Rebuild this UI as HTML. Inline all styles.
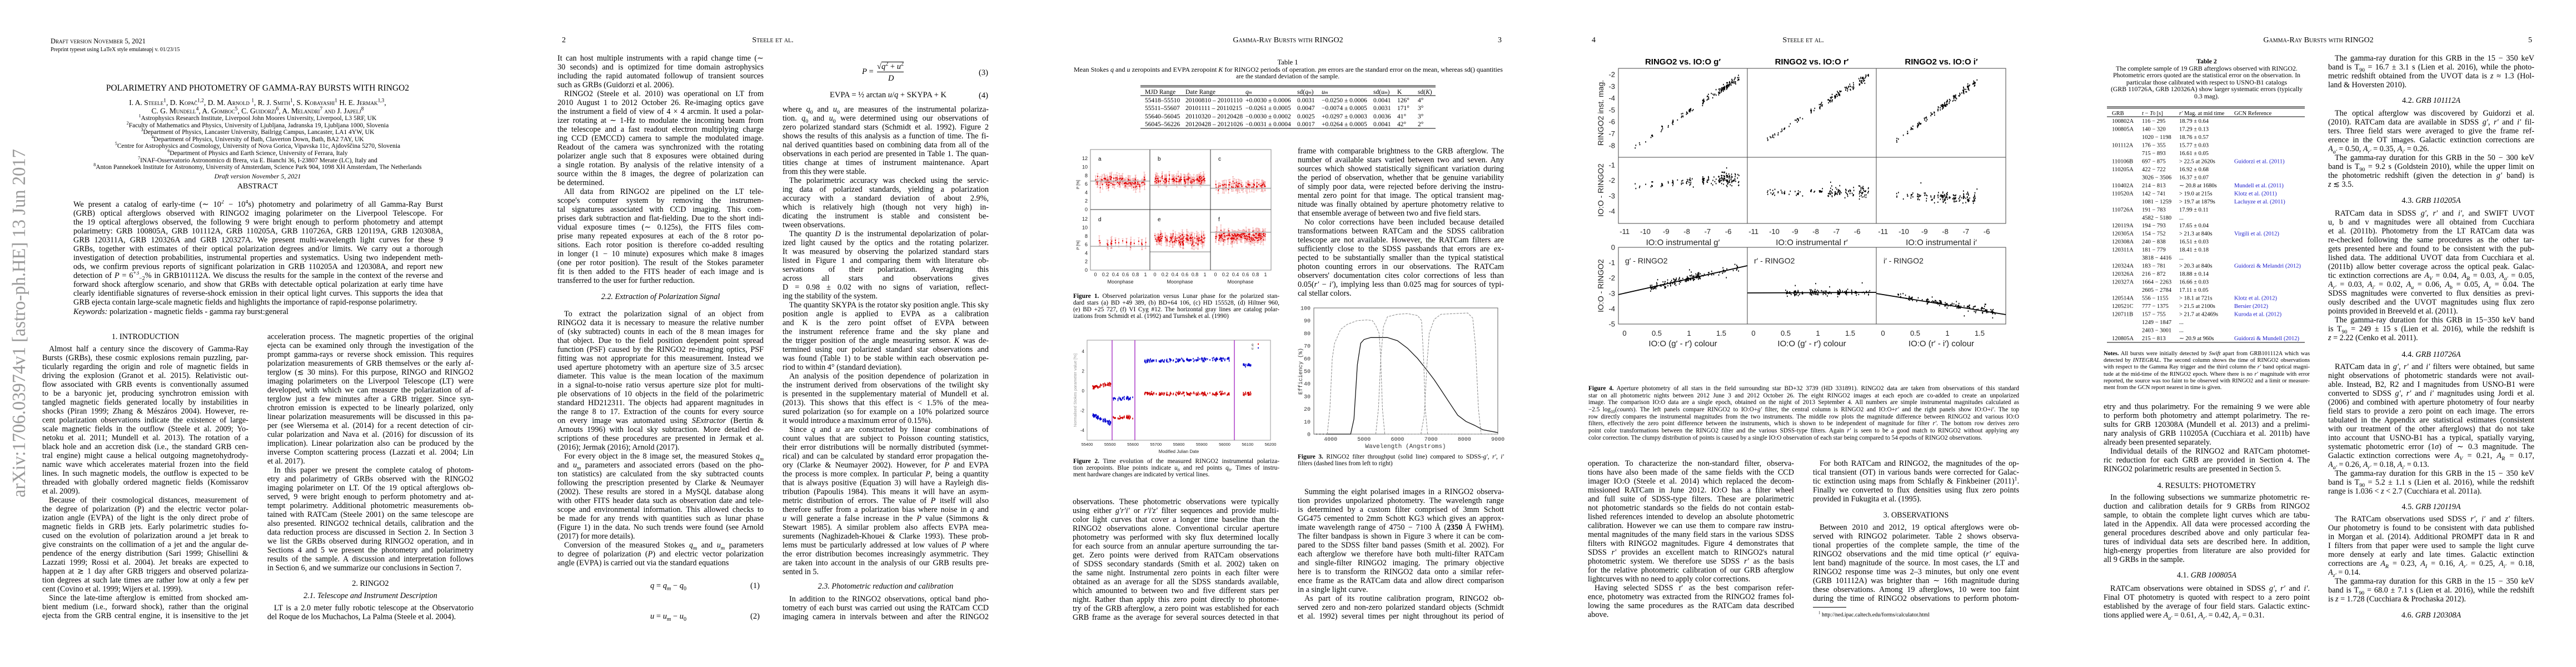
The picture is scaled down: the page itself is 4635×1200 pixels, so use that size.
<!DOCTYPE html>
<html><head><meta charset="utf-8">
<style>
body{margin:0;width:4635px;height:1200px;position:relative;overflow:hidden;background:#fff;font-family:"Liberation Serif",serif;color:#000}
sup,sub{line-height:0;font-size:70%}
.a{position:absolute;white-space:nowrap}
.c{position:absolute;width:371px;font-size:14.2px}
.c p{margin:0;height:16px;line-height:16px;text-align:justify;text-align-last:justify;overflow:hidden}
.c p.i{text-indent:12px}
.c p.e{text-align-last:left}
.c p.h{text-align:center;text-align-last:center}
.cap{position:absolute;font-size:11.3px}
.cap p{margin:0;height:12px;line-height:12px;text-align:justify;text-align-last:justify;overflow:hidden}
.cap p.e{text-align-last:left}
.sc{font-variant:small-caps}
.ctr{position:absolute;text-align:center;white-space:nowrap}
svg{position:absolute;left:0;top:0}
</style></head><body>

<!-- ================= PAGE 1 ================= -->
<div class="a sc" style="left:91px;top:67px;font-size:12.5px">Draft version November 5, 2021</div>
<div class="a" style="left:91px;top:84px;font-size:10px">Preprint typeset using LaTeX style emulateapj v. 01/23/15</div>
<div class="ctr" style="left:0;width:927px;top:150px;font-size:15.5px">POLARIMETRY AND PHOTOMETRY OF GAMMA-RAY BURSTS WITH RINGO2</div>
<div class="ctr sc" style="left:0;width:927px;top:177px;font-size:13.5px">I. A. Steele<sup>1</sup>, D. Kopač<sup>1,2</sup>, D. M. Arnold <sup>1</sup>, R. J. Smith<sup>1</sup>, S. Kobayashi<sup>1</sup> H. E. Jermak<sup>1,3</sup>,</div>
<div class="ctr sc" style="left:0;width:927px;top:192px;font-size:13.5px">C. G. Mundell<sup>4</sup>, A. Gomboc<sup>5</sup>, C. Guidorzi<sup>6</sup>, A. Melandri<sup>7</sup> and J. Japelj<sup>8</sup></div>
<div class="ctr" style="left:0;width:927px;top:207px;font-size:11.5px;line-height:12.6px">
<sup>1</sup>Astrophysics Research Institute, Liverpool John Moores University, Liverpool, L3 5RF, UK<br>
<sup>2</sup>Faculty of Mathematics and Physics, University of Ljubljana, Jadranska 19, Ljubljana 1000, Slovenia<br>
<sup>3</sup>Department of Physics, Lancaster University, Bailrigg Campus, Lancaster, LA1 4YW, UK<br>
<sup>4</sup>Department of Physics, University of Bath, Claverton Down, Bath, BA2 7AY, UK<br>
<sup>5</sup>Centre for Astrophysics and Cosmology, University of Nova Gorica, Vipavska 11c, Ajdovščina 5270, Slovenia<br>
<sup>6</sup>Department of Physics and Earth Science, University of Ferrara, Italy<br>
<sup>7</sup>INAF-Osservatorio Astronomico di Brera, via E. Bianchi 36, I-23807 Merate (LC), Italy and<br>
<sup>8</sup>Anton Pannekoek Institute for Astronomy, University of Amsterdam, Science Park 904, 1098 XH Amsterdam, The Netherlands</div>
<div class="ctr" style="left:0;width:927px;top:310px;font-size:12px;font-style:italic">Draft version November 5, 2021</div>
<div class="ctr" style="left:0;width:927px;top:328px;font-size:14px">ABSTRACT</div>
<div class="c" style="left:132px;top:360px;width:665px;font-size:14.3px">
<p>We present a catalog of early-time (∼ 10<sup>2</sup> − 10<sup>4</sup>s) photometry and polarimetry of all Gamma-Ray Burst</p>
<p>(GRB) optical afterglows observed with RINGO2 imaging polarimeter on the Liverpool Telescope. For</p>
<p>the 19 optical afterglows observed, the following 9 were bright enough to perform photometry and attempt</p>
<p>polarimetry: GRB 100805A, GRB 101112A, GRB 110205A, GRB 110726A, GRB 120119A, GRB 120308A,</p>
<p>GRB 120311A, GRB 120326A and GRB 120327A. We present multi-wavelength light curves for these 9</p>
<p>GRBs, together with estimates of their optical polarization degrees and/or limits. We carry out a thorough</p>
<p>investigation of detection probabilities, instrumental properties and systematics. Using two independent meth-</p>
<p>ods, we confirm previous reports of significant polarization in GRB 110205A and 120308A, and report new</p>
<p>detection of <i>P</i> = 6<sup>+3</sup><sub>−2</sub>% in GRB101112A. We discuss the results for the sample in the context of the reverse and</p>
<p>forward shock afterglow scenario, and show that GRBs with detectable optical polarization at early time have</p>
<p>clearly identifiable signatures of reverse-shock emission in their optical light curves. This supports the idea that</p>
<p class="e">GRB ejecta contain large-scale magnetic fields and highlights the importance of rapid-response polarimetry.</p>
</div>
<div class="a" style="left:132px;top:553px;font-size:14.3px"><i>Keywords:</i> polarization - magnetic fields - gamma ray burst:general</div>

<div class="c" style="left:76px;top:598px">
<p class="h">1. INTRODUCTION</p>
<p class="i" style="margin-top:6px">Almost half a century since the discovery of Gamma-Ray</p>
<p>Bursts (GRBs), these cosmic explosions remain puzzling, par-</p>
<p>ticularly regarding the origin and role of magnetic fields in</p>
<p>driving the explosion (Granot et al. 2015). Relativistic out-</p>
<p>flow associated with GRB events is conventionally assumed</p>
<p>to be a baryonic jet, producing synchrotron emission with</p>
<p>tangled magnetic fields generated locally by instabilities in</p>
<p>shocks (Piran 1999; Zhang &amp; Mészáros 2004). However, re-</p>
<p>cent polarization observations indicate the existence of large-</p>
<p>scale magnetic fields in the outflow (Steele et al. 2009; Yo-</p>
<p>netoku et al. 2011; Mundell et al. 2013). The rotation of a</p>
<p>black hole and an accretion disk (i.e., the standard GRB cen-</p>
<p>tral engine) might cause a helical outgoing magnetohydrody-</p>
<p>namic wave which accelerates material frozen into the field</p>
<p>lines. In such magnetic models, the outflow is expected to be</p>
<p>threaded with globally ordered magnetic fields (Komissarov</p>
<p class="e">et al. 2009).</p>
<p class="i">Because of their cosmological distances, measurement of</p>
<p>the degree of polarization (P) and the electric vector polar-</p>
<p>ization angle (EVPA) of the light is the only direct probe of</p>
<p>magnetic fields in GRB jets. Early polarimetric studies fo-</p>
<p>cused on the evolution of polarization around a jet break to</p>
<p>give constraints on the collimation of a jet and the angular de-</p>
<p>pendence of the energy distribution (Sari 1999; Ghisellini &amp;</p>
<p>Lazzati 1999; Rossi et al. 2004). Jet breaks are expected to</p>
<p>happen at ≳ 1 day after GRB triggers and observed polariza-</p>
<p>tion degrees at such late times are rather low at only a few per</p>
<p class="e">cent (Covino et al. 1999; Wijers et al. 1999).</p>
<p class="i">Since the late-time afterglow is emitted from shocked am-</p>
<p>bient medium (i.e., forward shock), rather than the original</p>
<p>ejecta from the GRB central engine, it is insensitive to the jet</p>
</div>

<div class="c" style="left:481px;top:598px">
<p>acceleration process. The magnetic properties of the original</p>
<p>ejecta can be examined only through the investigation of the</p>
<p>prompt gamma-rays or reverse shock emission. This requires</p>
<p>polarization measurements of GRB themselves or the early af-</p>
<p>terglow (≲ 30 mins). For this purpose, RINGO and RINGO2</p>
<p>imaging polarimeters on the Liverpool Telescope (LT) were</p>
<p>developed, with which we can measure the polarization of af-</p>
<p>terglow just a few minutes after a GRB trigger. Since syn-</p>
<p>chrotron emission is expected to be linearly polarized, only</p>
<p>linear polarization measurements will be discussed in this pa-</p>
<p>per (see Wiersema et al. (2014) for a recent detection of cir-</p>
<p>cular polarization and Nava et al. (2016) for discussion of its</p>
<p>implication). Linear polarization also can be produced by the</p>
<p>inverse Compton scattering process (Lazzati et al. 2004; Lin</p>
<p class="e">et al. 2017).</p>
<p class="i">In this paper we present the complete catalog of photom-</p>
<p>etry and polarimetry of GRBs observed with the RINGO2</p>
<p>imaging polarimeter on LT. Of the 19 optical afterglows ob-</p>
<p>served, 9 were bright enough to perform photometry and at-</p>
<p>tempt polarimetry. Additional photometric measurements ob-</p>
<p>tained with RATCam (Steele 2001) on the same telescope are</p>
<p>also presented. RINGO2 technical details, calibration and the</p>
<p>data reduction process are discussed in Section 2. In Section 3</p>
<p>we list the GRBs observed during RINGO2 operation, and in</p>
<p>Sections 4 and 5 we present the photometry and polarimetry</p>
<p>results of the sample. A discussion and interpretation follows</p>
<p class="e">in Section 6, and we summarize our conclusions in Section 7.</p>
</div>
<div class="c" style="left:481px;top:1042px">
<p class="h">2. RINGO2</p>
<p class="h" style="margin-top:6px"><i>2.1. Telescope and Instrument Description</i></p>
<p class="i" style="margin-top:6px">LT is a 2.0 meter fully robotic telescope at the Observatorio</p>
<p class="e">del Roque de los Muchachos, La Palma (Steele et al. 2004).</p>
</div>

<!-- ================= PAGE 2 ================= -->
<div class="a" style="left:1011px;top:65px;font-size:14px">2</div>
<div class="ctr sc" style="left:927px;width:927px;top:65px;font-size:14px">Steele et al.</div>
<div class="c" style="left:1003px;top:97px">
<p>It can host multiple instruments with a rapid change time (∼</p>
<p>30 seconds) and is optimized for time domain astrophysics</p>
<p>including the rapid automated followup of transient sources</p>
<p class="e">such as GRBs (Guidorzi et al. 2006).</p>
<p class="i">RINGO2 (Steele et al. 2010) was operational on LT from</p>
<p>2010 August 1 to 2012 October 26. Re-imaging optics gave</p>
<p>the instrument a field of view of 4 × 4 arcmin. It used a polar-</p>
<p>izer rotating at ∼ 1-Hz to modulate the incoming beam from</p>
<p>the telescope and a fast readout electron multiplying charge</p>
<p>ing CCD (EMCCD) camera to sample the modulated image.</p>
<p>Readout of the camera was synchronized with the rotating</p>
<p>polarizer angle such that 8 exposures were obtained during</p>
<p>a single rotation. By analysis of the relative intensity of a</p>
<p>source within the 8 images, the degree of polarization can</p>
<p class="e">be determined.</p>
<p class="i">All data from RINGO2 are pipelined on the LT tele-</p>
<p>scope's computer system by removing the instrumen-</p>
<p>tal signatures associated with CCD imaging. This com-</p>
<p>prises dark subtraction and flat-fielding. Due to the short indi-</p>
<p>vidual exposure times (∼ 0.125s), the FITS files com-</p>
<p>prise many repeated exposures at each of the 8 rotor po-</p>
<p>sitions. Each rotor position is therefore co-added resulting</p>
<p>in longer (1 − 10 minute) exposures which make 8 images</p>
<p>(one per rotor position). The result of the Stokes parameter</p>
<p>fit is then added to the FITS header of each image and is</p>
<p class="e">transferred to the user for further reduction.</p>
</div>
<div class="c" style="left:1003px;top:526px">
<p class="h"><i>2.2. Extraction of Polarization Signal</i></p>
<p class="i" style="margin-top:15px">To extract the polarization signal of an object from</p>
<p>RINGO2 data it is necessary to measure the relative number</p>
<p>of (sky subtracted) counts in each of the 8 mean images for</p>
<p>that object. Due to the field position dependent point spread</p>
<p>function (PSF) caused by the RINGO2 re-imaging optics, PSF</p>
<p>fitting was not appropriate for this measurement. Instead we</p>
<p>used aperture photometry with an aperture size of 3.5 arcsec</p>
<p>diameter. This value is the mean location of the maximum</p>
<p>in a signal-to-noise ratio versus aperture size plot for multi-</p>
<p>ple observations of 10 objects in the field of the polarimetric</p>
<p>standard HD212311. The objects had apparent magnitudes in</p>
<p>the range 8 to 17. Extraction of the counts for every source</p>
<p>on every image was automated using <i>SExtractor</i> (Bertin &amp;</p>
<p>Arnouts 1996) with local sky subtraction. More detailed de-</p>
<p>scriptions of these procedures are presented in Jermak et al.</p>
<p class="e">(2016); Jermak (2016); Arnold (2017).</p>
<p class="i">For every object in the 8 image set, the measured Stokes <i>q<sub>m</sub></i></p>
<p>and <i>u<sub>m</sub></i> parameters and associated errors (based on the pho-</p>
<p>ton statistics) are calculated from the sky subtracted counts</p>
<p>following the prescription presented by Clarke &amp; Neumayer</p>
<p>(2002). These results are stored in a MySQL database along</p>
<p>with other FITS header data such as observation date and tele-</p>
<p>scope and environmental information. This allowed checks to</p>
<p>be made for any trends with quantities such as lunar phase</p>
<p>(Figure 1) in the data. No such trends were found (see Arnold</p>
<p class="e">(2017) for more details).</p>
<p class="i">Conversion of the measured Stokes <i>q<sub>m</sub></i> and <i>u<sub>m</sub></i> parameters</p>
<p>to degree of polarization (<i>P</i>) and electric vector polarization</p>
<p class="e">angle (EVPA) is carried out via the standard equations</p>
</div>
<div class="a" style="left:1170px;top:1046px;font-size:14.5px"><i>q</i> = <i>q<sub>m</sub></i> − <i>q</i><sub>0</sub></div>
<div class="a" style="left:1350px;top:1046px;font-size:14.5px">(1)</div>
<div class="a" style="left:1170px;top:1101px;font-size:14.5px"><i>u</i> = <i>u<sub>m</sub></i> − <i>u</i><sub>0</sub></div>
<div class="a" style="left:1350px;top:1101px;font-size:14.5px">(2)</div>

<div class="a" style="left:1551px;top:121px;font-size:14.5px"><i>P</i> =</div>
<div class="a" style="left:1578px;top:112px;font-size:14.5px;border-bottom:1px solid #000">√<span style="border-top:1px solid #000"><i>q</i><sup>2</sup> + <i>u</i><sup>2</sup></span></div>
<div class="a" style="left:1598px;top:133px;font-size:14.5px"><i>D</i></div>
<div class="a" style="left:1761px;top:123px;font-size:14.5px">(3)</div>
<div class="a" style="left:1493px;top:163px;font-size:14.5px">EVPA = ½ arctan <i>u</i>/<i>q</i> + SKYPA + K</div>
<div class="a" style="left:1761px;top:164px;font-size:14.5px">(4)</div>
<div class="c" style="left:1408px;top:189px">
<p>where <i>q</i><sub>0</sub> and <i>u</i><sub>0</sub> are measures of the instrumental polariza-</p>
<p>tion. <i>q</i><sub>0</sub> and <i>u</i><sub>0</sub> were determined using our observations of</p>
<p>zero polarized standard stars (Schmidt et al. 1992). Figure 2</p>
<p>shows the results of this analysis as a function of time. The fi-</p>
<p>nal derived quantities based on combining data from all of the</p>
<p>observations in each period are presented in Table 1. The quan-</p>
<p>tities change at times of instrument maintenance. Apart</p>
<p class="e">from this they were stable.</p>
<p class="i">The polarimetric accuracy was checked using the servic-</p>
<p>ing data of polarized standards, yielding a polarization</p>
<p>accuracy with a standard deviation of about 2.9%,</p>
<p>which is relatively high (though not very high) in-</p>
<p>dicating the instrument is stable and consistent be-</p>
<p class="e">tween observations.</p>
<p class="i">The quantity <i>D</i> is the instrumental depolarization of polar-</p>
<p>ized light caused by the optics and the rotating polarizer.</p>
<p>It was measured by observing the polarized standard stars</p>
<p>listed in Figure 1 and comparing them with literature ob-</p>
<p>servations of their polarization. Averaging this</p>
<p>across all stars and observations gives</p>
<p>D = 0.98 ± 0.02 with no signs of variation, reflect-</p>
<p class="e">ing the stability of the system.</p>
<p class="i">The quantity SKYPA is the rotator sky position angle. This sky</p>
<p>position angle is applied to EVPA as a calibration</p>
<p>and K is the zero point offset of EVPA between</p>
<p>the instrument reference frame and the sky plane and</p>
<p>the trigger position of the angle measuring sensor. <i>K</i> was de-</p>
<p>termined using our polarized standard star observations and</p>
<p>was found (Table 1) to be stable within each observation pe-</p>
<p class="e">riod to within 4° (standard deviation).</p>
<p class="i">An analysis of the position dependence of polarization in</p>
<p>the instrument derived from observations of the twilight sky</p>
<p>is presented in the supplementary material of Mundell et al.</p>
<p>(2013). This shows that this effect is &lt; 1.5% of the mea-</p>
<p>sured polarization (so for example on a 10% polarized source</p>
<p class="e">it would introduce a maximum error of 0.15%).</p>
<p class="i">Since <i>q</i> and <i>u</i> are constructed by linear combinations of</p>
<p>count values that are subject to Poisson counting statistics,</p>
<p>their error distributions will be normally distributed (symmet-</p>
<p>rical) and can be calculated by standard error propagation the-</p>
<p>ory (Clarke &amp; Neumayer 2002). However, for <i>P</i> and EVPA</p>
<p>the process is more complex. In particular <i>P</i>, being a quantity</p>
<p>that is always positive (Equation 3) will have a Rayleigh dis-</p>
<p>tribution (Papoulis 1984). This means it will have an asym-</p>
<p>metric distribution of errors. The value of <i>P</i> itself will also</p>
<p>therefore suffer from a polarization bias where noise in <i>q</i> and</p>
<p><i>u</i> will generate a false increase in the <i>P</i> value (Simmons &amp;</p>
<p>Stewart 1985). A similar problem also affects EVPA mea-</p>
<p>surements (Naghizadeh-Khouei &amp; Clarke 1993). These prob-</p>
<p>lems must be particularly addressed at low values of <i>P</i> where</p>
<p>the error distribution becomes increasingly asymmetric. They</p>
<p>are taken into account in the analysis of our GRB results pre-</p>
<p class="e">sented in 5.</p>
</div>
<div class="c" style="left:1408px;top:1047px">
<p class="h"><i>2.3. Photometric reduction and calibration</i></p>
<p class="i" style="margin-top:7px">In addition to the RINGO2 observations, optical band pho-</p>
<p>tometry of each burst was carried out using the RATCam CCD</p>
<p>imaging camera in intervals between and after the RINGO2</p>
</div>

<!-- ================= PAGE 3 ================= -->
<div class="ctr sc" style="left:1854px;width:927px;top:65px;font-size:14px">Gamma-Ray Bursts with RINGO2</div>
<div class="a" style="left:2695px;top:65px;font-size:14px">3</div>
<div class="c" style="left:2335px;top:264px">
<p>frame with comparable brightness to the GRB afterglow. The</p>
<p>number of available stars varied between two and seven. Any</p>
<p>sources which showed statistically significant variation during</p>
<p>the period of observation, whether that be genuine variability</p>
<p>of simply poor data, were rejected before deriving the instru-</p>
<p>mental zero point for that image. The optical transient mag-</p>
<p>nitude was finally obtained by aperture photometry relative to</p>
<p class="e">that ensemble average of between two and five field stars.</p>
<p class="i">No color corrections have been included because detailed</p>
<p>transformations between RATCam and the SDSS calibration</p>
<p>telescope are not available. However, the RATCam filters are</p>
<p>sufficiently close to the SDSS passbands that errors are ex-</p>
<p>pected to be substantially smaller than the typical statistical</p>
<p>photon counting errors in our observations. The RATCam</p>
<p>observers' documentation cites color corrections of less than</p>
<p>0.05(<i>r′</i> − <i>i′</i>), implying less than 0.025 mag for sources of typi-</p>
<p class="e">cal stellar colors.</p>
</div>
<div class="cap" style="left:1931px;top:527px;width:371px">
<p><b>Figure 1.</b> Observed polarization versus Lunar phase for the polarized stan-</p>
<p>dard stars (a) BD +49 389, (b) BD+64 106, (c) HD 155528, (d) Hiltner 960,</p>
<p>(e) BD +25 727, (f) VI Cyg #12. The horizontal gray lines are catalog polar-</p>
<p class="e">izations from Schmidt et al. (1992) and Turnshek et al. (1990)</p>
</div>
<div class="cap" style="left:1931px;top:824px;width:371px">
<p><b>Figure 2.</b> Time evolution of the measured RINGO2 instrumental polariza-</p>
<p>tion zeropoints. Blue points indicate <i>u</i><sub>0</sub> and red points <i>q</i><sub>0</sub>. Times of instru-</p>
<p class="e">ment hardware changes are indicated by vertical lines.</p>
</div>
<div class="cap" style="left:2335px;top:816px;width:371px">
<p><b>Figure 3.</b> RINGO2 filter throughput (solid line) compared to SDSS-<i>g′</i>, <i>r′</i>, <i>i′</i></p>
<p class="e">filters (dashed lines from left to right)</p>
</div>
<div class="c" style="left:1930px;top:895px">
<p>observations. These photometric observations were typically</p>
<p>using either <i>g′r′i′</i> or <i>r′i′z′</i> filter sequences and provide multi-</p>
<p>color light curves that cover a longer time baseline than the</p>
<p>RINGO2 observations alone. Conventional circular aperture</p>
<p>photometry was performed with sky flux determined locally</p>
<p>for each source from an annular aperture surrounding the tar-</p>
<p>get. Zero points were derived from RATCam observations</p>
<p>of SDSS secondary standards (Smith et al. 2002) taken on</p>
<p>the same night. Instrumental zero points in each filter were</p>
<p>obtained as an average for all the SDSS standards available,</p>
<p>which amounted to between two and five different stars per</p>
<p>night. Rather than apply this zero point directly to photome-</p>
<p>try of the GRB afterglow, a zero point was established for each</p>
<p>GRB frame as the average for several sources detected in that</p>
</div>
<div class="c" style="left:2335px;top:877px">
<p class="i">Summing the eight polarised images in a RINGO2 observa-</p>
<p>tion provides unpolarized photometry. The wavelength range</p>
<p>is determined by a custom filter comprised of 3mm Schott</p>
<p>GG475 cemented to 2mm Schott KG3 which gives an approx-</p>
<p>imate wavelength range of 4750 − 7100 Å (<b>2350</b> Å FWHM).</p>
<p>The filter bandpass is shown in Figure 3 where it can be com-</p>
<p>pared to the SDSS filter band passes (Smith et al. 2002). For</p>
<p>each afterglow we therefore have both multi-filter RATCam</p>
<p>and single-filter RINGO2 imaging. The primary objective</p>
<p>here is to transform the RINGO2 data onto a similar refer-</p>
<p>ence frame as the RATCam data and allow direct comparison</p>
<p class="e">in a single light curve.</p>
<p class="i">As part of its routine calibration program, RINGO2 ob-</p>
<p>served zero and non-zero polarized standard objects (Schmidt</p>
<p>et al. 1992) several times per night throughout its period of</p>
</div>

<!-- ================= PAGE 4 ================= -->
<div class="a" style="left:2864px;top:65px;font-size:14px">4</div>
<div class="ctr sc" style="left:2781px;width:927px;top:65px;font-size:14px">Steele et al.</div>
<div class="cap" style="left:2858px;top:693px;width:775px;font-size:11.2px">
<p style="height:12.7px;line-height:12.7px"><b>Figure 4.</b> Aperture photometry of all stars in the field surrounding star BD+32 3739 (HD 331891). RINGO2 data are taken from observations of this standard</p>
<p style="height:12.7px;line-height:12.7px">star on all photometric nights between 2012 June 3 and 2012 October 26. The eight RINGO2 images at each epoch are co-added to create an unpolarized</p>
<p style="height:12.7px;line-height:12.7px">image. The comparison IO:O data are a single epoch, obtained on the night of 2013 September 4. All numbers are simple instrumental magnitudes calculated as</p>
<p style="height:12.7px;line-height:12.7px">−2.5 log<sub>10</sub>(<i>counts</i>). The left panels compare RINGO2 to IO:O+<i>g′</i> filter, the central column is RINGO2 and IO:O+<i>r′</i> and the right panels show IO:O+<i>i′</i>. The top</p>
<p style="height:12.7px;line-height:12.7px">row directly compares the instrumental magnitudes from the two instruments. The middle row plots the magnitude difference between RINGO2 and various IO:O</p>
<p style="height:12.7px;line-height:12.7px">filters, effectively the zero point difference between the instruments, which is shown to be independent of magnitude for filter <i>r′</i>. The bottom row derives zero</p>
<p style="height:12.7px;line-height:12.7px">point color transformations between the RINGO2 filter and the various SDSS-type filters. Again <i>r′</i> is seen to be a good match to RINGO2 without applying any</p>
<p class="e" style="height:12.7px;line-height:12.7px">color correction. The clumpy distribution of points is caused by a single IO:O observation of each star being compared to 54 epochs of RINGO2 observations.</p>
</div>
<div class="c" style="left:2857px;top:826px">
<p>operation. To characterize the non-standard filter, observa-</p>
<p>tions have also been made of the same fields with the CCD</p>
<p>imager IO:O (Steele et al. 2014) which replaced the decom-</p>
<p>missioned RATCam in June 2012. IO:O has a filter wheel</p>
<p>and full suite of SDSS-type filters. These are polarimetric</p>
<p>not photometric standards so the fields do not contain estab-</p>
<p>lished references intended to develop an absolute photometric</p>
<p>calibration. However we can use them to compare raw instru-</p>
<p>mental magnitudes of the many field stars in the various SDSS</p>
<p>filters with RINGO2 magnitudes. Figure 4 demonstrates that</p>
<p>SDSS <i>r′</i> provides an excellent match to RINGO2's natural</p>
<p>photometric system. We therefore use SDSS <i>r′</i> as the basis</p>
<p>for the relative photometric calibration of our GRB afterglow</p>
<p class="e">lightcurves with no need to apply color corrections.</p>
<p class="i">Having selected SDSS r′ as the best comparison refer-</p>
<p>ence, photometry was extracted from the RINGO2 frames fol-</p>
<p>lowing the same procedures as the RATCam data described</p>
<p class="e">above.</p>
</div>
<div class="c" style="left:3262px;top:826px">
<p class="i">For both RATCam and RINGO2, the magnitudes of the op-</p>
<p>tical transient (OT) in various bands were corrected for Galac-</p>
<p>tic extinction using maps from Schlafly &amp; Finkbeiner (2011)<sup>1</sup>.</p>
<p>Finally we converted to flux densities using flux zero points</p>
<p class="e">provided in Fukugita et al. (1995).</p>
<p class="h" style="margin-top:13px">3. OBSERVATIONS</p>
<p class="i" style="margin-top:6px">Between 2010 and 2012, 19 optical afterglows were ob-</p>
<p>served with RINGO2 polarimeter. Table 2 shows observa-</p>
<p>tional properties of the complete sample, the time of the</p>
<p>RINGO2 observations and the mid time optical (<i>r′</i> equiva-</p>
<p>lent band) magnitude of the source. In most cases, the LT and</p>
<p>RINGO2 response time was 2–3 minutes, but only one event</p>
<p>(GRB 101112A) was brighter than ∼ 16th magnitude during</p>
<p>these observations. Among 19 afterglows, 10 were too faint</p>
<p>during the time of RINGO2 observations to perform photom-</p>
</div>
<div class="a" style="left:3262px;top:1092px;width:60px;border-top:1px solid #000"></div>
<div class="a" style="left:3272px;top:1101px;font-size:10px"><sup>1</sup> http://ned.ipac.caltech.edu/forms/calculator.html</div>

<!-- ================= PAGE 5 ================= -->
<div class="ctr sc" style="left:3708px;width:927px;top:65px;font-size:14px">Gamma-Ray Bursts with RINGO2</div>
<div class="a" style="left:4549px;top:65px;font-size:14px">5</div>
<div class="ctr" style="left:3785px;width:371px;top:104px;font-size:11.8px;line-height:12.6px"><b>Table 2</b><br>The complete sample of 19 GRB afterglows observed with RINGO2.<br>Photometric errors quoted are the statistical error on the observation. In<br>particular those calibrated with respect to USNO-B1 catalogs<br>(GRB 110726A, GRB 120326A) show larger systematic errors (typically<br>0.3 mag).</div>
<div class="cap" style="left:3785px;top:631px;width:371px;font-size:10.4px">
<p style="height:12.2px;line-height:12.2px"><b>Notes.</b> All bursts were initially detected by <i>Swift</i> apart from GRB101112A which was</p>
<p style="height:12.2px;line-height:12.2px">detected by <i>INTEGRAL</i>. The second column shows the time of RINGO2 observations</p>
<p style="height:12.2px;line-height:12.2px">with respect to the Gamma Ray trigger and the third column the <i>r′</i> band optical magni-</p>
<p style="height:12.2px;line-height:12.2px">tude at the mid-time of the RINGO2 epoch. Where there is no <i>r′</i> magnitude with error</p>
<p style="height:12.2px;line-height:12.2px">reported, the source was too faint to be observed with RINGO2 and a limit or measure-</p>
<p class="e" style="height:12.2px;line-height:12.2px">ment from the GCN report nearest in time is given.</p>
</div>
<div class="c" style="left:3785px;top:724px">
<p>etry and thus polarimetry. For the remaining 9 we were able</p>
<p>to perform both photometry and attempt polarimetry. The re-</p>
<p>sults for GRB 120308A (Mundell et al. 2013) and a prelimi-</p>
<p>nary analysis of GRB 110205A (Cucchiara et al. 2011b) have</p>
<p class="e">already been presented separately.</p>
<p class="i">Individual details of the RINGO2 and RATCam photomet-</p>
<p>ric reduction for each GRB are provided in Section 4. The</p>
<p class="e">RINGO2 polarimetric results are presented in Section 5.</p>
<p class="h" style="margin-top:14px">4. RESULTS: PHOTOMETRY</p>
<p class="i" style="margin-top:5px">In the following subsections we summarize photometric re-</p>
<p>duction and calibration details for 9 GRBs from RINGO2</p>
<p>sample, to obtain the complete light curves which are tabu-</p>
<p>lated in the Appendix. All data were processed according the</p>
<p>general procedures described above and only particular fea-</p>
<p>tures of individual data sets are described here. In addition,</p>
<p>high-energy properties from literature are also provided for</p>
<p class="e">all 9 GRBs in the sample.</p>
<p class="h" style="margin-top:12px">4.1. <i>GRB 100805A</i></p>
<p class="i" style="margin-top:8px">RATCam observations were obtained in SDSS <i>g′</i>, <i>r′</i> and <i>i′</i>.</p>
<p>Final OT photometry is quoted with respect to a zero point</p>
<p>established by the average of four field stars. Galactic extinc-</p>
<p class="e">tions applied were <i>A<sub>g′</sub></i> = 0.61, <i>A<sub>r′</sub></i> = 0.42, <i>A<sub>i′</sub></i> = 0.31.</p>
</div>
<div class="c" style="left:4189px;top:97px">
<p class="i">The gamma-ray duration for this GRB in the 15 − 350 keV</p>
<p>band is T<sub>90</sub> = 16.7 ± 3.1 s (Lien et al. 2016), while the photo-</p>
<p>metric redshift obtained from the UVOT data is <i>z</i> ≈ 1.3 (Hol-</p>
<p class="e">land &amp; Hoversten 2010).</p>
<p class="h" style="margin-top:12px">4.2. <i>GRB 101112A</i></p>
<p class="i" style="margin-top:7px">The optical afterglow was discovered by Guidorzi et al.</p>
<p>(2010). RATCam data are available in SDSS <i>g′</i>, <i>r′</i> and <i>i′</i> fil-</p>
<p>ters. Three field stars were averaged to give the frame ref-</p>
<p>erence in the OT images. Galactic extinction corrections are</p>
<p class="e"><i>A<sub>g′</sub></i> = 0.50, <i>A<sub>r′</sub></i> = 0.35, <i>A<sub>i′</sub></i> = 0.26.</p>
<p class="i">The gamma-ray duration for this GRB in the 50 − 300 keV</p>
<p>band is T<sub>90</sub> = 9.2 s (Goldstein 2010), while the upper limit on</p>
<p>the photometric redshift (given the detection in <i>g′</i> band) is</p>
<p class="e"><i>z</i> ≲ 3.5.</p>
<p class="h" style="margin-top:13px">4.3. <i>GRB 110205A</i></p>
<p class="i" style="margin-top:7px">RATCam data in SDSS <i>g′</i>, <i>r′</i> and <i>i′</i>, and SWIFT UVOT</p>
<p>u, b and v magnitudes were all obtained from Cucchiara</p>
<p>et al. (2011b). Photometry from the LT RATCam data was</p>
<p>re-checked following the same procedures as the other tar-</p>
<p>gets presented here and found to be consistent with the pub-</p>
<p>lished data. The additional UVOT data from Cucchiara et al.</p>
<p>(2011b) allow better coverage across the optical peak. Galac-</p>
<p>tic extinction corrections are <i>A<sub>V</sub></i> = 0.04, <i>A<sub>R</sub></i> = 0.03, <i>A<sub>g′</sub></i> = 0.05,</p>
<p><i>A<sub>r′</sub></i> = 0.03, <i>A<sub>i′</sub></i> = 0.02, <i>A<sub>u</sub></i> = 0.06, <i>A<sub>b</sub></i> = 0.05, <i>A<sub>v</sub></i> = 0.04. The</p>
<p>SDSS magnitudes were converted to flux densities as previ-</p>
<p>ously described and the UVOT magnitudes using flux zero</p>
<p class="e">points provided in Breeveld et al. (2011).</p>
<p class="i">The gamma-ray duration for this GRB in 15−350 keV band</p>
<p>is T<sub>90</sub> = 249 ± 15 s (Lien et al. 2016), while the redshift is</p>
<p class="e"><i>z</i> = 2.22 (Cenko et al. 2011).</p>
<p class="h" style="margin-top:14px">4.4. <i>GRB 110726A</i></p>
<p class="i" style="margin-top:6px">RATCam data in <i>g′</i>, <i>r′</i> and <i>i′</i> filters were obtained, but same</p>
<p>night observations of photometric standards were not avail-</p>
<p>able. Instead, B2, R2 and I magnitudes from USNO-B1 were</p>
<p>converted to SDSS <i>g′</i>, <i>r′</i> and <i>i′</i> magnitudes using Jordi et al.</p>
<p>(2006) and combined with aperture photometry of four nearby</p>
<p>field stars to provide a zero point on each image. The errors</p>
<p>tabulated in the Appendix are statistical estimates (consistent</p>
<p>with our treatment of the other afterglows) that do not take</p>
<p>into account that USNO-B1 has a typical, spatially varying,</p>
<p>systematic photometric error (1<i>σ</i>) of ∼ 0.3 magnitude. The</p>
<p>Galactic extinction corrections were <i>A<sub>V</sub></i> = 0.21, <i>A<sub>R</sub></i> = 0.17,</p>
<p class="e"><i>A<sub>g′</sub></i> = 0.26, <i>A<sub>r′</sub></i> = 0.18, <i>A<sub>i′</sub></i> = 0.13.</p>
<p class="i">The gamma-ray duration for this GRB in the 15 − 350 keV</p>
<p>band is T<sub>90</sub> = 5.2 ± 1.1 s (Lien et al. 2016), while the redshift</p>
<p class="e">range is 1.036 &lt; <i>z</i> &lt; 2.7 (Cucchiara et al. 2011a).</p>
<p class="h" style="margin-top:12px">4.5. <i>GRB 120119A</i></p>
<p class="i" style="margin-top:6px">The RATCam observations used SDSS <i>r′</i>, <i>i′</i> and <i>z′</i> filters.</p>
<p>Our photometry is found to be consistent with data published</p>
<p>in Morgan et al. (2014). Additional PROMPT data in R and</p>
<p>I filters from that paper were used to sample the light curve</p>
<p>more densely at early and late times. Galactic extinction</p>
<p>corrections are <i>A<sub>R</sub></i> = 0.23, <i>A<sub>I</sub></i> = 0.16, <i>A<sub>r′</sub></i> = 0.25, <i>A<sub>i′</sub></i> = 0.18,</p>
<p class="e"><i>A<sub>z′</sub></i> = 0.14.</p>
<p class="i">The gamma-ray duration for this GRB in the 15 − 350 keV</p>
<p>band is T<sub>90</sub> = 68.0 ± 7.1 s (Lien et al. 2016), while the redshift</p>
<p class="e">is <i>z</i> = 1.728 (Cucchiara &amp; Prochaska 2012).</p>
<p class="h" style="margin-top:13px">4.6. <i>GRB 120308A</i></p>
</div>

<svg width="4635" height="1200" viewBox="0 0 4635 1200" xmlns="http://www.w3.org/2000/svg">
<text transform="translate(45,895) rotate(-90)" font-family="Liberation Serif,serif" font-size="34" fill="#9a9a9a" textLength="627" lengthAdjust="spacingAndGlyphs">arXiv:1706.03974v1  [astro-ph.HE]  13 Jun 2017</text>

<g font-family="Liberation Serif,serif" font-size="11.5">
<text x="2317" y="116" text-anchor="middle" font-size="12.5">Table 1</text>
<text x="1932" y="129" textLength="772" lengthAdjust="spacingAndGlyphs">Mean Stokes <tspan font-style="italic">q</tspan> and <tspan font-style="italic">u</tspan> zeropoints and EVPA zeropoint <tspan font-style="italic">K</tspan> for RINGO2 periods of operation. <tspan font-style="italic">pm</tspan> errors are the standard error on the mean, whereas sd() quantities</text>
<text x="2317" y="141" text-anchor="middle">are the standard deviation of the sample.</text>
<g stroke="#000" stroke-width="1"><line x1="2052" y1="154" x2="2583" y2="154"/><line x1="2052" y1="156.5" x2="2583" y2="156.5"/><line x1="2052" y1="172" x2="2583" y2="172"/><line x1="2052" y1="231" x2="2583" y2="231"/></g>
<text y="169"><tspan x="2060">MJD Range</tspan><tspan x="2133">Date Range</tspan><tspan x="2241" font-style="italic">q<tspan font-size="8">m</tspan></tspan><tspan x="2334">sd(<tspan font-style="italic">q<tspan font-size="8">m</tspan></tspan>)</tspan><tspan x="2378" font-style="italic">u<tspan font-size="8">m</tspan></tspan><tspan x="2471">sd(<tspan font-style="italic">u<tspan font-size="8">m</tspan></tspan>)</tspan><tspan x="2514">K</tspan><tspan x="2551">sd(<tspan font-style="italic">K</tspan>)</tspan></text>
<text y="184"><tspan x="2060">55418–55510</tspan><tspan x="2133">20100810 – 20101110</tspan><tspan x="2241">+0.0030 ± 0.0006</tspan><tspan x="2334">0.0031</tspan><tspan x="2378">−0.0250 ± 0.0006</tspan><tspan x="2471">0.0041</tspan><tspan x="2514">126°</tspan><tspan x="2551">4°</tspan></text>
<text y="198"><tspan x="2060">55511–55607</tspan><tspan x="2133">20101111 – 20110215</tspan><tspan x="2241">−0.0261 ± 0.0005</tspan><tspan x="2334">0.0047</tspan><tspan x="2378">−0.0074 ± 0.0005</tspan><tspan x="2471">0.0031</tspan><tspan x="2514">171°</tspan><tspan x="2551">3°</tspan></text>
<text y="213"><tspan x="2060">55640–56045</tspan><tspan x="2133">20110320 – 20120428</tspan><tspan x="2241">−0.0030 ± 0.0002</tspan><tspan x="2334">0.0025</tspan><tspan x="2378">+0.0297 ± 0.0003</tspan><tspan x="2471">0.0036</tspan><tspan x="2514">41°</tspan><tspan x="2551">3°</tspan></text>
<text y="227"><tspan x="2060">56045–56226</tspan><tspan x="2133">20120428 – 20121026</tspan><tspan x="2241">−0.0031 ± 0.0004</tspan><tspan x="2334">0.0017</tspan><tspan x="2378">+0.0264 ± 0.0005</tspan><tspan x="2471">0.0041</tspan><tspan x="2514">42°</tspan><tspan x="2551">2°</tspan></text>
</g>

<g font-family="Liberation Serif,serif" font-size="10.5">
<g stroke="#000" stroke-width="1"><line x1="3791" y1="192" x2="4147" y2="192"/><line x1="3791" y1="194.5" x2="4147" y2="194.5"/><line x1="3791" y1="210" x2="4147" y2="210"/><line x1="3791" y1="616" x2="4147" y2="616"/></g>
<text y="207"><tspan x="3800">GRB</tspan><tspan x="3854" font-style="italic">t</tspan><tspan> − </tspan><tspan font-style="italic">T</tspan><tspan font-size="8">0</tspan><tspan> [s]</tspan><tspan x="3921" font-style="italic">r′</tspan><tspan> Mag. at mid time</tspan><tspan x="4020">GCN Reference</tspan></text>
<g id="t2"></g>
</g>

<g id="f1" font-family="Liberation Sans,sans-serif" font-size="9" fill="#222"></g>
<g id="f2" font-family="Liberation Sans,sans-serif" font-size="8" fill="#222"></g>
<g id="f3" font-family="Liberation Mono,monospace" font-size="10" fill="#333"></g>
<g id="f4" font-family="Liberation Sans,sans-serif" font-size="13" fill="#222"></g>
</svg>

<script>
(function(){
var NS="http://www.w3.org/2000/svg";
function el(p,t,a,txt){var e=document.createElementNS(NS,t);for(var k in a)e.setAttribute(k,a[k]);if(txt!==undefined)e.textContent=txt;p.appendChild(e);return e;}
var s=12345;function R(){s=(s*1103515245+12345)%2147483648;return s/2147483648;}
function G(){return (R()+R()+R()-1.5)/0.5;}

var t2=document.getElementById('t2');
var rows=[["100802A","116 − 295","18.79 ± 0.64",""],["100805A","140 − 320","17.29 ± 0.13",""],["","1020 − 1198","18.76 ± 0.57",""],["101112A","176 − 355","15.77 ± 0.03",""],["","715 − 893","16.61 ± 0.05",""],["110106B","697 − 875","> 22.5 at 2620s","Guidorzi et al. (2011)"],["110205A","422 − 722","16.92 ± 0.68",""],["","3026 − 3506","16.37 ± 0.07",""],["110402A","214 − 813","∼ 20.8 at 1680s","Mundell et al. (2011)"],["110520A","142 − 741","> 19.0 at 215s","Klotz et al. (2011)"],["","1081 − 1259","> 19.7 at 1879s","Lacluyze et al. (2011)"],["110726A","191 − 783","17.99 ± 0.11",""],["","4582 − 5180","...",""],["120119A","194 − 793","17.65 ± 0.04",""],["120305A","154 − 752","> 21.3 at 840s","Virgili et al. (2012)"],["120308A","240 − 838","16.51 ± 0.03",""],["120311A","181 − 779","18.41 ± 0.18",""],["","3818 − 4416","...",""],["120324A","183 − 781","> 20.3 at 840s","Guidorzi & Melandri (2012)"],["120326A","216 − 872","18.88 ± 0.14",""],["120327A","1664 − 2263","16.66 ± 0.03",""],["","2605 − 2784","17.11 ± 0.05",""],["120514A","556 − 1155","> 18.1 at 721s","Klotz et al. (2012)"],["120521C","777 − 1375","> 21.5 at 2100s","Bersier (2012)"],["120711B","157 − 755","> 21.7 at 42469s","Kuroda et al. (2012)"],["","1249 − 1847","...",""],["","2403 − 3001","...",""],["120805A","215 − 813","∼ 20.9 at 960s","Guidorzi & Mundell (2012)"]];
rows.forEach(function(r,i){var y=221+i*14.48;
 el(t2,'text',{x:3800,y:y},r[0]);el(t2,'text',{x:3854,y:y},r[1]);el(t2,'text',{x:3921,y:y},r[2]);
 if(r[3])el(t2,'text',{x:4020,y:y,fill:'#1a1acc'},r[3]);});

var f1=document.getElementById('f1');
var L=[1962,2069,2178],W=[107,109,109],Y0=[377,486];
var cfg=[[6.5,1.0,6.7,110,'a'],[7.0,0.7,5.7,110,'b'],[5.6,0.7,5.0,70,'c'],[6.4,0.6,5.6,28,'d'],[7.2,1.0,4.3,120,'e'],[7.9,1.0,8.9,150,'f']];
var ep=el(f1,'g',{stroke:'#f2a0a0','stroke-width':'0.8'});var pp=el(f1,'g',{fill:'#e00000'});
for(var r=0;r<2;r++)for(var c=0;c<3;c++){var k=r*3+c,q=cfg[k],x0=L[c],y0=Y0[r];
 el(f1,'line',{x1:x0,y1:y0-q[2]*7.65,x2:x0+W[c],y2:y0-q[2]*7.65,stroke:'#bbb','stroke-width':2});
 el(f1,'text',{x:x0+14,y:y0-88,'font-size':10,fill:'#000'},q[4]);
 for(var n=0;n<q[3];n++){var m=(k==3)?Math.floor(R()*14)/13+R()*0.02:R();var P=q[0]+G()*q[1]*0.6;
  var x=x0+9+m*90,y=y0-P*7.65,e=(0.5+R()*0.8)*7.65;
  el(ep,'line',{x1:x,y1:y-e,x2:x,y2:y+e});el(ep,'line',{x1:x-1.5,y1:y-e,x2:x+1.5,y2:y-e});el(ep,'line',{x1:x-1.5,y1:y+e,x2:x+1.5,y2:y+e});
  el(pp,'rect',{x:x-1,y:y-1,width:2,height:2});}
}
el(f1,'rect',{x:1962,y:269,width:325,height:217,fill:'none',stroke:'#888','stroke-width':1});
el(f1,'line',{x1:1962,y1:377,x2:2287,y2:377,stroke:'#333'});
el(f1,'line',{x1:2069,y1:269,x2:2069,y2:486,stroke:'#333'});el(f1,'line',{x1:2178,y1:269,x2:2178,y2:486,stroke:'#333'});
for(var r=0;r<2;r++)for(var v=0;v<=12;v+=2)el(f1,'text',{x:1957,y:Y0[r]-v*7.65+3,'text-anchor':'end'},v);
for(var r=0;r<2;r++)el(f1,'text',{transform:'translate(1942,'+(Y0[r]-45)+') rotate(-90)','text-anchor':'middle','font-size':7},'P [%]');
for(var c=0;c<3;c++){for(var j=0;j<=5;j++){var v=j/5;el(f1,'text',{x:L[c]+9+v*90,y:497,'text-anchor':'middle'},j==0?'0':(j==5?'1':v.toFixed(1)));}
 el(f1,'text',{x:L[c]+54,y:510,'text-anchor':'middle'},'Moonphase');}

var f2=document.getElementById('f2');
function mx(d){return 1956+(d-55400)*0.4125;}function my(v){return 703-v*17.8;}
el(f2,'rect',{x:1956,y:612,width:330,height:180,fill:'none',stroke:'#999'});
[2001,2042,2221].forEach(function(x){el(f2,'line',{x1:x,y1:612,x2:x,y2:792,stroke:'#a020c0','stroke-width':1.3});});
var bp=el(f2,'g',{fill:'#0000d0'}),rp=el(f2,'g',{fill:'#d00000'});
var segs=[[55422,55505,-2.45,-0.01,0.35,0.004,60],[55510,55600,-0.8,0,-2.7,0,35],[55650,56020,3.0,0.0006,-0.3,0,150],[56080,56115,2.6,0,-0.3,0,20]];
segs.forEach(function(g){for(var n=0;n<g[6];n++){var d=g[0]+R()*(g[1]-g[0]);
 var b=g[2]+g[3]*(d-g[0])+G()*0.09,rr=g[4]+g[5]*(d-g[0])+G()*0.09;
 el(bp,'rect',{x:mx(d)-0.8,y:my(b)-1.5,width:1.6,height:3});el(rp,'rect',{x:mx(d)-0.8,y:my(rr)-1.5,width:1.6,height:3});}});
[4,2,0,-2,-4].forEach(function(v){el(f2,'text',{x:1951,y:my(v)+3,'text-anchor':'end'},v);});
for(var d=55400;d<=56200;d+=100)el(f2,'text',{x:mx(d),y:802,'text-anchor':'middle','font-size':7.5},d);
el(f2,'text',{x:2121,y:815,'text-anchor':'middle'},'Modified Julian Date');
el(f2,'text',{transform:'translate(1937,702) rotate(-90)','text-anchor':'middle',fill:'#999','font-size':7.5},'Normalised Stokes parameter value [%]');
el(f2,'text',{x:2252,y:622,'font-size':6},'q');el(f2,'text',{x:2252,y:629,'font-size':6},'u');
el(f2,'rect',{x:2263,y:618,width:2,height:2,fill:'#d00'});el(f2,'rect',{x:2263,y:625,width:2,height:2,fill:'#00d'});

var f3=document.getElementById('f3');
function lx(l){return 2364+(l-3500)*0.0602;}function ly(e){return 781-e*2.27;}
function pth(a){return a.map(function(p,i){return (i?'L':'M')+lx(p[0]).toFixed(1)+' '+ly(p[1]).toFixed(1);}).join(' ');}
el(f3,'rect',{x:2364,y:554,width:331,height:227,fill:'none',stroke:'#666'});
el(f3,'path',{d:pth([[3500,0],[4600,0],[4700,12],[4800,55],[4900,72],[5000,75],[5200,76.5],[5700,76.5],[6000,74],[6300,68],[6600,60],[6900,50],[7100,43],[7300,35],[7600,23],[7800,15],[8050,10],[8300,7],[8550,3.5],[9000,1.2]]),fill:'none',stroke:'#111','stroke-width':1.3});
var dash={fill:'none',stroke:'#888','stroke-width':1,'stroke-dasharray':'4,2'};
dash.d=pth([[3500,0],[3900,0],[3980,20],[4050,60],[4120,72],[4300,83],[4500,87],[4800,90],[5100,90.5],[5250,90],[5350,86],[5450,80],[5500,60],[5550,20],[5620,0],[9000,0]]);el(f3,'path',dash);
dash.d=pth([[5350,0],[5430,20],[5500,60],[5580,85],[5700,93],[6000,95],[6300,95.5],[6600,94],[6720,90],[6780,60],[6830,20],[6900,0]]);el(f3,'path',dash);
dash.d=pth([[6700,0],[6800,15],[6880,55],[6950,80],[7100,91],[7300,95],[7700,95.5],[8100,96],[8250,92],[8330,70],[8420,20],[8500,0]]);el(f3,'path',dash);
for(var v=0;v<=100;v+=10)el(f3,'text',{x:2358,y:ly(v)+3.5,'text-anchor':'end','font-size':10},v);
for(var l=4000;l<=9000;l+=1000)el(f3,'text',{x:lx(l),y:793,'text-anchor':'middle','font-size':10},l);
el(f3,'text',{x:2529,y:806,'text-anchor':'middle','font-size':11},'Wavelength (Angstroms)');
el(f3,'text',{transform:'translate(2343,668) rotate(-90)','text-anchor':'middle','font-size':10},'Efficiency (%)');

var f4=document.getElementById('f4');
var OX=[0,232,465],flt=["g′","r′","i′"];
var pts=el(f4,'g',{fill:'#000'});
function dot(x,y){el(pts,'rect',{x:x-0.8,y:y-1.2,width:1.6,height:2.4});}
function vx(o,v){return 2912+o+(v+11.3)*37.3;}
var tp=[[-10.6,-5.5,-8.2,1.15],[-10.9,-5.4,-8.1,1.1],[-10.9,-6.4,-8.3,1.3]];
var md=[[-2.4,0.11],[-2.75,0],[-2.9,-0.06]];
var bt=[[0.4,1.8,-3.0,0.945],[0.5,1.8,-2.97,0.02],[0.2,1.75,-3.0,-0.7]];
for(var k=0;k<3;k++){var o=OX[k],t=tp[k];
 for(var st=0;st<55;st++){var u=Math.pow(R(),0.6);var v=t[0]+(t[1]-t[0])*u;var nn=1+Math.floor(R()*(u>0.6?7:3));
  var col=bt[k][0]+(bt[k][1]-bt[k][0])*R();
  for(var j=0;j<nn;j++){var vv=v+G()*0.02;var m=t[2]+t[3]*(vv-t[0])+G()*0.08*(1+u);
   dot(vx(o,vv),134+(-2-m)*21.3);
   var d=md[k][0]+md[k][1]*(vv-t[0])+G()*0.1*(1+u)+(R()<0.04?(R()-0.3)*1.2:0);
   dot(vx(o,vv),297+(-1-d)*27.7);
   var cc=col+G()*0.01;var b=bt[k][2]+bt[k][3]*cc+G()*0.1+(R()<0.04?(R()-0.5)*1.2:0);
   dot(2923+o+cc*116,445+(-b)*27.6);}}
}
var fr={fill:'none',stroke:'#444','stroke-width':1};
fr.x=2912;fr.y=123;fr.width=697;fr.height=279;el(f4,'rect',fr);
fr.y=445;fr.height=138;el(f4,'rect',fr);
el(f4,'line',{x1:2912,y1:283,x2:3609,y2:283,stroke:'#444'});
[3144,3376].forEach(function(x){el(f4,'line',{x1:x,y1:123,x2:x,y2:402,stroke:'#444'});el(f4,'line',{x1:x,y1:445,x2:x,y2:583,stroke:'#444'});});
el(f4,'line',{x1:2912,y1:530,x2:3144,y2:478,stroke:'#000','stroke-width':1.8});
el(f4,'line',{x1:3144,y1:527,x2:3376,y2:526,stroke:'#000','stroke-width':1.8});
el(f4,'line',{x1:3376,y1:528,x2:3609,y2:566,stroke:'#000','stroke-width':1.8});
for(var v=2;v<=8;v++)el(f4,'text',{x:2906,y:134+(v-2)*21.3+4.5,'text-anchor':'end'},'-'+v);
for(var v=1;v<=4;v++)el(f4,'text',{x:2906,y:297+(v-1)*27.7+4.5,'text-anchor':'end'},'-'+v);
for(var v=0;v<=5;v++)el(f4,'text',{x:2906,y:445+v*27.6+4.5,'text-anchor':'end'},v==0?'0':'-'+v);
el(f4,'text',{transform:'translate(2885,203) rotate(-90)','text-anchor':'middle','font-size':14},'RINGO2 inst. mag.');
el(f4,'text',{transform:'translate(2885,342) rotate(-90)','text-anchor':'middle','font-size':14},'IO:O - RINGO2');
el(f4,'text',{transform:'translate(2885,514) rotate(-90)','text-anchor':'middle','font-size':14},'IO:O - RINGO2');
var cols=["IO:O (g′ - r′) colour","IO:O (g′ - r′) colour","IO:O (r′ - i′) colour"];
for(var k=0;k<3;k++){var o=OX[k],cx=2912+o+116;
 el(f4,'text',{x:cx,y:116,'text-anchor':'middle','font-weight':'bold','font-size':15,fill:'#000'},'RINGO2 vs. IO:O '+flt[k]);
 for(var v=-11;v<=-6;v++)el(f4,'text',{x:vx(o,v),y:421,'text-anchor':'middle'},v);
 el(f4,'text',{x:cx,y:441,'text-anchor':'middle','font-size':15},'IO:O instrumental '+flt[k]);
 ['0','0.5','1','1.5'].forEach(function(s,j){el(f4,'text',{x:2923+o+j*58,y:604,'text-anchor':'middle'},s);});
 el(f4,'text',{x:cx,y:623,'text-anchor':'middle','font-size':15},cols[k]);
 el(f4,'text',{x:2924+o,y:474,'font-size':14},flt[k]+' - RINGO2');
}
})();
</script>
</body></html>
